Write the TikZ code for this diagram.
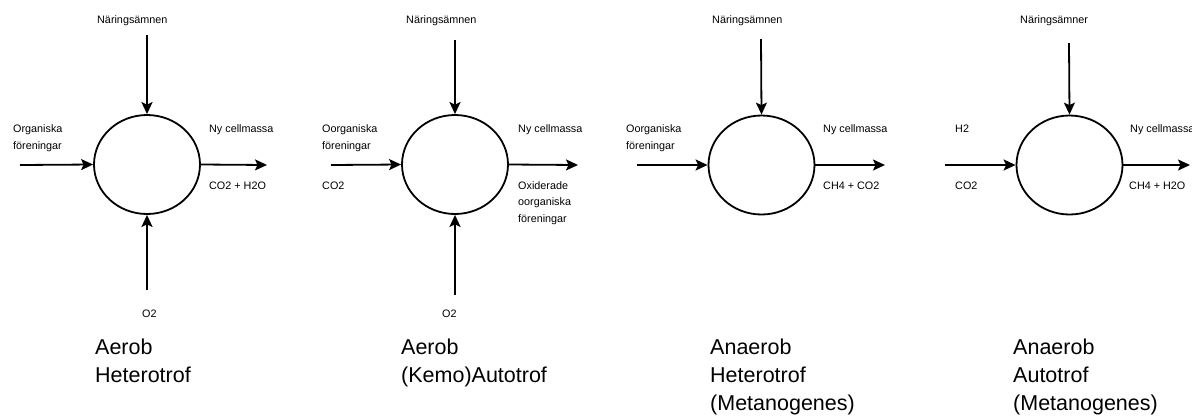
\documentclass[tikz,border=0pt]{standalone}
\usepackage{fontspec}
\setmainfont{Liberation Sans}
\usetikzlibrary{arrows.meta,shapes.geometric}
\begin{document}
\begin{tikzpicture}[x=1pt,y=-1pt,
  cell/.style={draw,ellipse,line width=1.8pt,minimum width=106pt,minimum height=99pt,inner sep=0pt},
  flow/.style={line width=1.8pt,-{Stealth[length=12pt,width=11pt,inset=2.5pt]}},
  small/.style={font=\fontsize{10.8}{12}\selectfont,inner sep=0pt,anchor=base west},
  big/.style={font=\fontsize{21.5}{25}\selectfont,inner sep=0pt,anchor=base west}]
\clip (0,0) rectangle (1192,416);
\fill[white] (0,0) rectangle (1192,416);

% ---------- Panel 1 ----------
\node[cell] (c1) at (147,164.5) {};
\coordinate (t1) at (147,35);
\coordinate (l1) at (20,165);
\coordinate (r1) at (267,165);
\coordinate (b1) at (147,290);
\draw[flow] (t1) -- (c1.north);
\draw[flow] (l1) -- (c1.west);
\draw[flow] (c1.east) -- (r1);
\draw[flow] (b1) -- (c1.south);
\node[small] (n1) at (97,23) {Näringsämnen};
\node[small] (in1a) at (13,132) {Organiska};
\node[small] (in1b) at (13,149) {föreningar};
\node[small] (o1a) at (209,132) {Ny cellmassa};
\node[small] (o1b) at (209,189) {CO2 + H2O};
\node[small] (ox1) at (142,317) {O2};
\node[big] (h1a) at (95,354) {Aerob};
\node[big] (h1b) at (95,382) {Heterotrof};

% ---------- Panel 2 ----------
\node[cell] (c2) at (455,164.5) {};
\coordinate (t2) at (455,40);
\coordinate (l2) at (331,165);
\coordinate (r2) at (578,165);
\coordinate (b2) at (455,295);
\draw[flow] (t2) -- (c2.north);
\draw[flow] (l2) -- (c2.west);
\draw[flow] (c2.east) -- (r2);
\draw[flow] (b2) -- (c2.south);
\node[small] (n2) at (406,23) {Näringsämnen};
\node[small] (in2a) at (322,132) {Oorganiska};
\node[small] (in2b) at (322,149) {föreningar};
\node[small] (in2c) at (322,189) {CO2};
\node[small] (o2a) at (518,132) {Ny cellmassa};
\node[small] (o2b) at (518,189) {Oxiderade};
\node[small] (o2c) at (518,205.5) {oorganiska};
\node[small] (o2d) at (518,222) {föreningar};
\node[small] (ox2) at (442,317) {O2};
\node[big] (h2a) at (401,354) {Aerob};
\node[big] (h2b) at (401,382) {(Kemo)Autotrof};

% ---------- Panel 3 ----------
\node[cell] (c3) at (761.5,165) {};
\coordinate (t3) at (761,39);
\coordinate (l3) at (637,165);
\coordinate (r3) at (885,165);
\draw[flow] (t3) -- (c3.north);
\draw[flow] (l3) -- (c3.west);
\draw[flow] (c3.east) -- (r3);
\node[small] (n3) at (712,23) {Näringsämnen};
\node[small] (in3a) at (626,132) {Oorganiska};
\node[small] (in3b) at (626,149) {föreningar};
\node[small] (o3a) at (823,132) {Ny cellmassa};
\node[small] (o3b) at (823,189) {CH4 + CO2};
\node[big] (h3a) at (710,354) {Anaerob};
\node[big] (h3b) at (710,382) {Heterotrof};
\node[big] (h3c) at (710,410) {(Metanogenes)};

% ---------- Panel 4 ----------
\node[cell] (c4) at (1069.5,165) {};
\coordinate (t4) at (1069,43);
\coordinate (l4) at (945,165);
\coordinate (r4) at (1190,165);
\draw[flow] (t4) -- (c4.north);
\draw[flow] (l4) -- (c4.west);
\draw[flow] (c4.east) -- (r4);
\node[small] (n4) at (1020,23) {Näringsämner};
\node[small] (in4a) at (955,132) {H2};
\node[small] (in4c) at (955,189) {CO2};
\node[small] (o4a) at (1130,132) {Ny cellmassa};
\node[small] (o4b) at (1129,189) {CH4 + H2O};
\node[big] (h4a) at (1013,354) {Anaerob};
\node[big] (h4b) at (1013,382) {Autotrof};
\node[big] (h4c) at (1013,410) {(Metanogenes)};
\end{tikzpicture}
\end{document}
